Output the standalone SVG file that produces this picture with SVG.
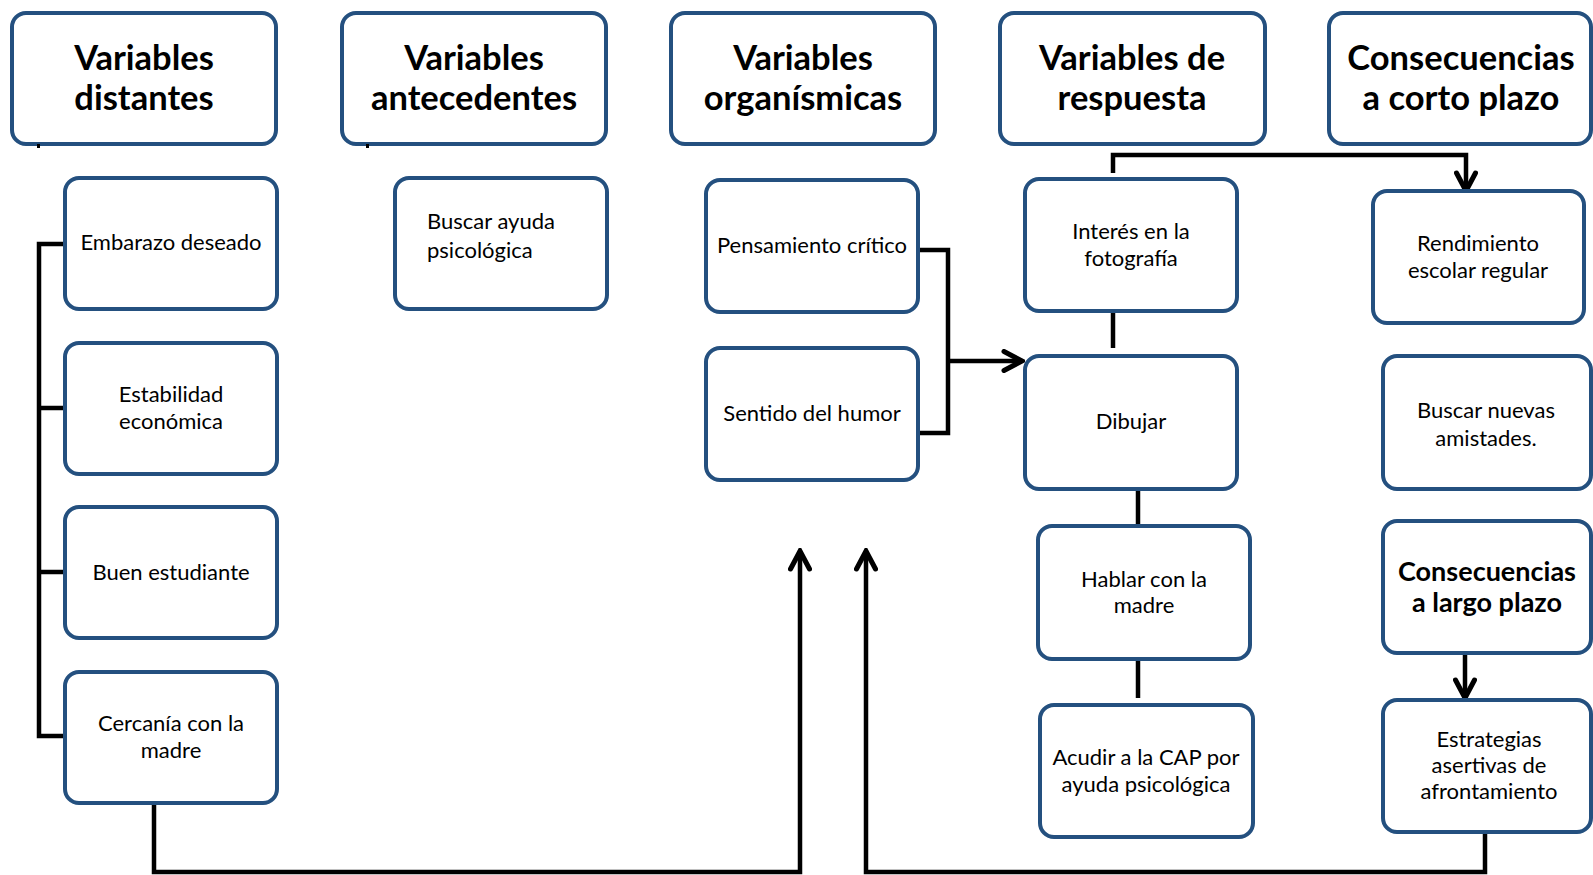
<svg xmlns="http://www.w3.org/2000/svg" width="1593" height="875" viewBox="0 0 1593 875">
  <style>
    .box { fill: #ffffff; stroke: #24507f; stroke-width: 4; }
    .head { font-family: Lato, "Open Sans", "Liberation Sans", sans-serif; font-weight: 700; font-size: 34.5px; fill: #000; text-anchor: middle; }
    .lbl { font-family: Lato, "Open Sans", "Liberation Sans", sans-serif; font-size: 22px; fill: #000; text-anchor: middle; }
    .lbl-l { text-anchor: start; }
    .sub { font-family: Lato, "Open Sans", "Liberation Sans", sans-serif; font-weight: 700; font-size: 27px; fill: #000; text-anchor: middle; }
    .wire { fill: none; stroke: #000; stroke-width: 4.5; stroke-linejoin: miter; }
    .arrow { fill: none; stroke: #000; stroke-width: 4.5; marker-end: url(#chev); }
  </style>
  <defs>
    <marker id="chev" viewBox="0 0 24 24" refX="21" refY="12" markerWidth="24" markerHeight="24" markerUnits="userSpaceOnUse" orient="auto">
      <path d="M3,2.5 L21,12 L3,21.5" fill="none" stroke="#000" stroke-width="5" stroke-linecap="round"/>
    </marker>
  </defs>

  <rect width="1593" height="875" fill="#ffffff"/>

  <!-- column headers -->
  <g id="h-distantes">
    <rect class="box" x="12" y="13" width="264" height="131" rx="14"/>
    <text class="head" x="144" y="70">Variables</text>
    <text class="head" x="144" y="110">distantes</text>
  </g>
  <g id="h-antecedentes">
    <rect class="box" x="342" y="13" width="264" height="131" rx="14"/>
    <text class="head" x="474" y="70">Variables</text>
    <text class="head" x="474" y="110">antecedentes</text>
  </g>
  <g id="h-organismicas">
    <rect class="box" x="671" y="13" width="264" height="131" rx="14"/>
    <text class="head" x="803" y="70">Variables</text>
    <text class="head" x="803" y="110">organísmicas</text>
  </g>
  <g id="h-respuesta">
    <rect class="box" x="1000" y="13" width="265" height="131" rx="14"/>
    <text class="head" x="1132" y="70">Variables de</text>
    <text class="head" x="1132" y="110">respuesta</text>
  </g>
  <g id="h-corto">
    <rect class="box" x="1329" y="13" width="262" height="131" rx="14"/>
    <text class="head" x="1461" y="70">Consecuencias</text>
    <text class="head" x="1461" y="110">a corto plazo</text>
  </g>

  <!-- connectors -->
  <g id="connectors">
    <rect x="37" y="144" width="3" height="4" fill="#000"/>
    <rect x="366" y="144" width="3" height="4" fill="#000"/>
    <!-- bracket joining the distant variables -->
    <polyline class="wire" points="65,244 39,244 39,736 65,736"/>
    <line class="wire" x1="39" y1="408" x2="65" y2="408"/>
    <line class="wire" x1="39" y1="572" x2="65" y2="572"/>
    <!-- organismic variables into Dibujar -->
    <polyline class="wire" points="918,250 948,250 948,433 918,433"/>
    <line class="arrow" x1="948" y1="361" x2="1022" y2="361"/>
    <!-- response chain -->
    <line class="wire" x1="1113" y1="311" x2="1113" y2="348"/>
    <line class="wire" x1="1138" y1="489" x2="1138" y2="526"/>
    <line class="wire" x1="1138" y1="654" x2="1138" y2="698"/>
    <polyline class="arrow" points="1113,173 1113,155 1466,155 1466,191"/>
    <!-- long term -->
    <line class="arrow" x1="1465" y1="653" x2="1465" y2="698"/>
    <!-- feedback lines from the bottom -->
    <polyline class="arrow" points="154,803 154,872 800,872 800,551"/>
    <polyline class="arrow" points="1485,832 1485,872 866,872 866,551"/>
  </g>

  <!-- distant variables -->
  <g id="n-embarazo">
    <rect class="box" x="65" y="178" width="212" height="131" rx="14"/>
    <text class="lbl" x="171" y="250">Embarazo deseado</text>
  </g>
  <g id="n-estabilidad">
    <rect class="box" x="65" y="343" width="212" height="131" rx="14"/>
    <text class="lbl" x="171" y="402">Estabilidad</text>
    <text class="lbl" x="171" y="429">económica</text>
  </g>
  <g id="n-estudiante">
    <rect class="box" x="65" y="507" width="212" height="131" rx="14"/>
    <text class="lbl" x="171" y="580">Buen estudiante</text>
  </g>
  <g id="n-cercania">
    <rect class="box" x="65" y="672" width="212" height="131" rx="14"/>
    <text class="lbl" x="171" y="731">Cercanía con la</text>
    <text class="lbl" x="171" y="758">madre</text>
  </g>

  <!-- antecedent -->
  <g id="n-buscar-ayuda">
    <rect class="box" x="395" y="178" width="212" height="131" rx="14"/>
    <text class="lbl lbl-l" x="427" y="229">Buscar ayuda</text>
    <text class="lbl lbl-l" x="427" y="258">psicológica</text>
  </g>

  <!-- organismic -->
  <g id="n-pensamiento">
    <rect class="box" x="706" y="180" width="212" height="132" rx="14"/>
    <text class="lbl" x="812" y="253">Pensamiento crítico</text>
  </g>
  <g id="n-humor">
    <rect class="box" x="706" y="348" width="212" height="132" rx="14"/>
    <text class="lbl" x="812" y="421">Sentido del humor</text>
  </g>

  <!-- response -->
  <g id="n-interes">
    <rect class="box" x="1025" y="179" width="212" height="132" rx="14"/>
    <text class="lbl" x="1131" y="239">Interés en la</text>
    <text class="lbl" x="1131" y="266">fotografía</text>
  </g>
  <g id="n-dibujar">
    <rect class="box" x="1025" y="356" width="212" height="133" rx="14"/>
    <text class="lbl" x="1131" y="429">Dibujar</text>
  </g>
  <g id="n-hablar">
    <rect class="box" x="1038" y="526" width="212" height="133" rx="14"/>
    <text class="lbl" x="1144" y="587">Hablar con la</text>
    <text class="lbl" x="1144" y="613">madre</text>
  </g>
  <g id="n-acudir">
    <rect class="box" x="1040" y="705" width="213" height="132" rx="14"/>
    <text class="lbl" x="1146" y="765">Acudir a la CAP por</text>
    <text class="lbl" x="1146" y="792">ayuda psicológica</text>
  </g>

  <!-- consequences -->
  <g id="n-rendimiento">
    <rect class="box" x="1373" y="191" width="211" height="132" rx="14"/>
    <text class="lbl" x="1478" y="251">Rendimiento</text>
    <text class="lbl" x="1478" y="278">escolar regular</text>
  </g>
  <g id="n-amistades">
    <rect class="box" x="1383" y="356" width="208" height="133" rx="14"/>
    <text class="lbl" x="1486" y="418">Buscar nuevas</text>
    <text class="lbl" x="1486" y="446">amistades.</text>
  </g>
  <g id="n-largo">
    <rect class="box" x="1383" y="521" width="208" height="132" rx="14"/>
    <text class="sub" x="1487" y="581">Consecuencias</text>
    <text class="sub" x="1487" y="612">a largo plazo</text>
  </g>
  <g id="n-estrategias">
    <rect class="box" x="1383" y="700" width="208" height="132" rx="14"/>
    <text class="lbl" x="1489" y="747">Estrategias</text>
    <text class="lbl" x="1489" y="773">asertivas de</text>
    <text class="lbl" x="1489" y="799">afrontamiento</text>
  </g>
</svg>
